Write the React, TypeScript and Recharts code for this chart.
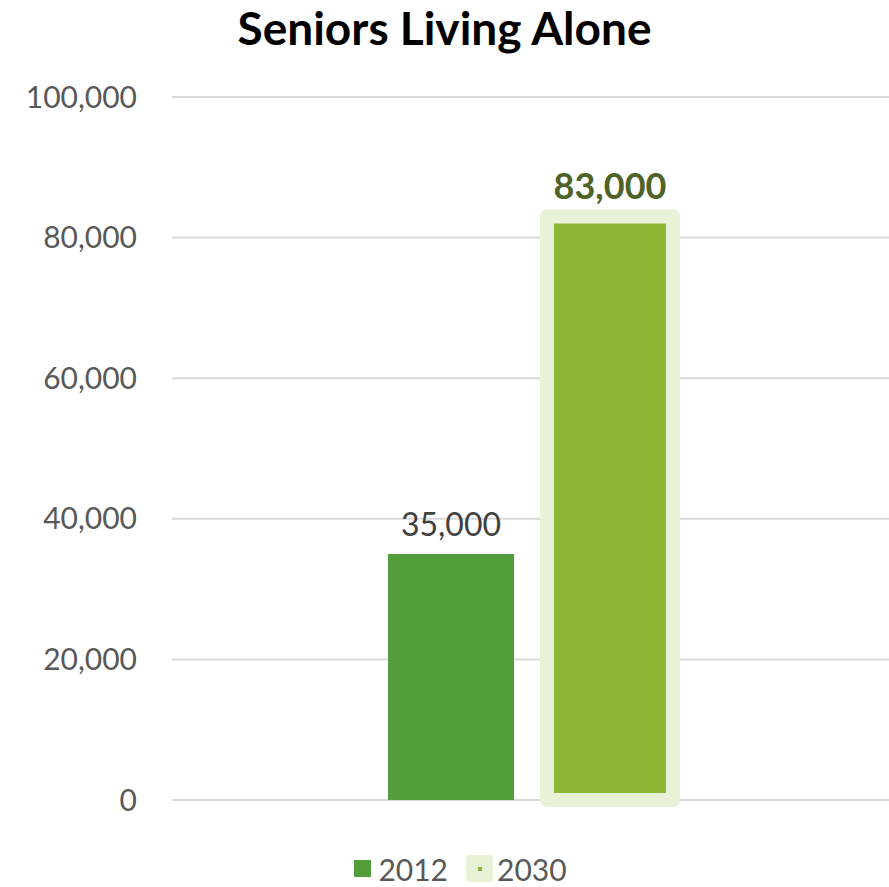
import React from "react"
import { BarChart, Bar, XAxis, YAxis, CartesianGrid, Legend, LabelList } from "recharts"

const categories = ["Seniors"]
const values2012 = [35000]
const values2030 = [83000]
const yTicks = [0, 20000, 40000, 60000, 80000, 100000]

const data = categories.map((name, i) => ({ name, y2012: values2012[i], y2030: values2030[i] }))

const fmt = (v: number) => Intl.NumberFormat("en-US").format(v)
const FONT = "Lato, 'Open Sans', sans-serif"

function LegendBox() {
  return (
    <div style={{ display: "flex", justifyContent: "center", alignItems: "center", height: 37, paddingLeft: 32, fontFamily: FONT, fontSize: 30, color: "#595959" }}>
      <span style={{ display: "inline-block", width: 17, height: 17, background: "#519E3A", marginRight: 7 }} />
      <span style={{ marginRight: 18 }}>2012</span>
      <span style={{ display: "inline-flex", width: 27, height: 27, background: "#E8F2D6", borderRadius: 4, alignItems: "center", justifyContent: "center", marginRight: 4 }}>
        <span style={{ width: 4, height: 4, background: "#8DB836" }} />
      </span>
      <span>2030</span>
    </div>
  )
}

export default function App() {
  return (
    <div style={{ position: "absolute", left: 0, top: 0, width: 889, height: 887, background: "#fff" }}>
      <div style={{ position: "absolute", top: 0, width: 889, textAlign: "center", fontFamily: FONT, fontWeight: 700, fontSize: 46, color: "#000" }}>
        Seniors Living Alone
      </div>
      <BarChart width={889} height={887} data={data} margin={{ top: 97, right: 0, left: 0, bottom: 50 }} barSize={126} barGap={33}>
        <CartesianGrid vertical={false} stroke="#D9D9D9" strokeWidth={2} />
        <XAxis dataKey="name" hide />
        <YAxis
          width={172}
          domain={[0, 100000]}
          ticks={yTicks}
          tickFormatter={fmt}
          axisLine={false}
          tickLine={false}
          tickMargin={29}
          tick={{ fontSize: 30, fill: "#595959", fontFamily: FONT }}
        />
        <Legend verticalAlign="bottom" content={() => <LegendBox />} wrapperStyle={{ bottom: 0 }} />
        <Bar dataKey="y2012" fill="#519E3A" isAnimationActive={false}>
          <LabelList dataKey="y2012" position="top" offset={18} formatter={fmt} style={{ fontSize: 32, fill: "#404040", fontFamily: FONT }} />
        </Bar>
        <Bar dataKey="y2030" fill="#8DB836" stroke="#E8F2D6" strokeWidth={14} strokeLinejoin="round" isAnimationActive={false}>
          <LabelList dataKey="y2030" position="top" offset={18} formatter={fmt} style={{ fontSize: 36, fontWeight: 700, fill: "#4F6228", fontFamily: FONT }} />
        </Bar>
      </BarChart>
    </div>
  )
}
